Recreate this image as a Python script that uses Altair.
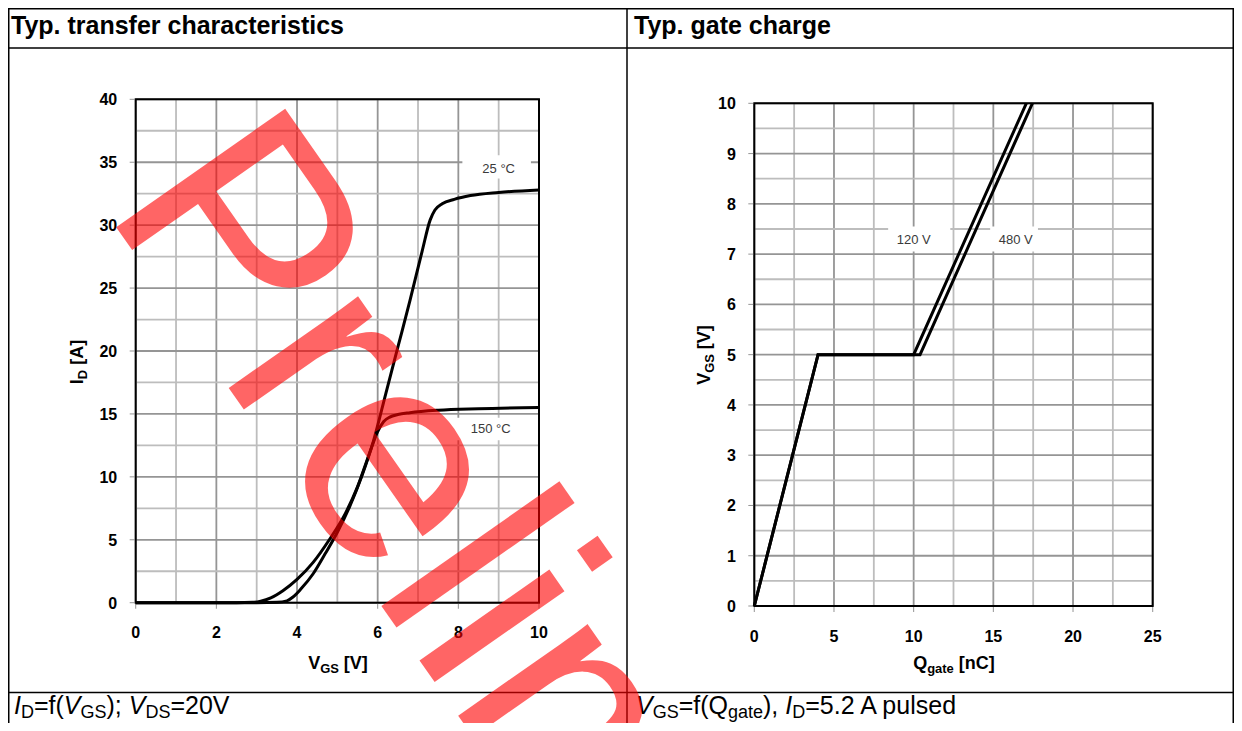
import altair as alt
import pandas as pd

FONT = "Liberation Sans"

# ---------------- data ----------------
# Typ. transfer characteristics  I_D = f(V_GS)
vgs_25 = [0, 3.0, 3.5, 3.75, 3.9, 4.1, 4.4, 4.7, 5.0, 5.3, 5.6, 5.9, 6.2, 6.5, 6.8, 7.1, 7.3, 7.42, 7.6, 7.9, 8.3, 9.0, 10.0]
id_25 = [0, 0, 0.03, 0.15, 0.45, 1.1, 2.3, 3.9, 5.6, 7.6, 10.0, 12.9, 16.6, 20.3, 24.0, 27.9, 30.4, 31.2, 31.7, 32.05, 32.35, 32.6, 32.8]
vgs_150 = [0, 2.5, 2.9, 3.1, 3.35, 3.65, 4.0, 4.4, 4.8, 5.2, 5.5, 5.8, 6.0, 6.15, 6.3, 6.5, 6.8, 7.5, 8.5, 10.0]
id_150 = [0, 0, 0.03, 0.12, 0.38, 0.95, 1.85, 3.2, 5.0, 7.1, 9.2, 11.9, 13.6, 14.4, 14.75, 14.95, 15.1, 15.3, 15.42, 15.52]

# Typ. gate charge  V_GS = f(Q_gate)
q_120 = [0, 4.0, 10.0, 17.07]
vg_120 = [0, 5, 5, 10]
q_480 = [0, 4.0, 10.4, 17.45]
vg_480 = [0, 5, 5, 10]

# axes / grids
left_x_ticks = [0, 2, 4, 6, 8, 10]
left_y_ticks = [0, 5, 10, 15, 20, 25, 30, 35, 40]
left_x_minor = [1, 3, 5, 7, 9]
left_y_minor = [2.5, 7.5, 12.5, 17.5, 22.5, 27.5, 32.5, 37.5]
right_x_ticks = [0, 5, 10, 15, 20, 25]
right_y_ticks = [0, 1, 2, 3, 4, 5, 6, 7, 8, 9, 10]
right_x_minor = [2.5, 7.5, 12.5, 17.5, 22.5]
right_y_minor = [0.5, 1.5, 2.5, 3.5, 4.5, 5.5, 6.5, 7.5, 8.5, 9.5]

# curve labels
left_labels = ["25 °C", "150 °C"]
left_label_x = [9.0, 8.8]
left_label_y = [34.5, 13.8]
left_box_x0 = [8.1, 7.95]
left_box_x1 = [9.8, 9.7]
left_box_y0 = [33.7, 12.9]
left_box_y1 = [35.55, 14.7]
right_labels = ["120 V", "480 V"]
right_label_x = [10.0, 16.4]
right_label_y = [7.28, 7.28]
right_box_x0 = [8.4, 14.8]
right_box_x1 = [12.3, 17.8]
right_box_y0 = [7.05, 7.05]
right_box_y1 = [7.55, 7.55]

# ---------------- layout ----------------
W, H = 1226, 715
PAGE = 8


def px(v):
    return v - PAGE


LX = [px(135.7), px(539.0)]
LY = [px(602.7), px(99.3)]
RX = [px(754.3), px(1152.7)]
RY = [px(606.0), px(103.3)]

one = pd.DataFrame({"k": [0]})

REG = {' ': 278, '(': 333, ')': 333, ',': 278, '.': 278, ';': 278, '=': 584, 'A': 667, 'C': 722,
       'D': 722, 'G': 778, 'I': 278, 'Q': 778, 'S': 667, 'V': 667, 'a': 556, 'd': 556, 'e': 556,
       'f': 278, 'g': 556, 'l': 222, 'n': 556, 'p': 556, 's': 500, 't': 278, 'u': 556, '[': 278, ']': 278}
BOLD = {' ': 278, '[': 333, ']': 333, 'A': 722, 'C': 722, 'D': 722, 'G': 778, 'I': 278, 'Q': 778,
        'S': 667, 'V': 667, 'a': 556, 'e': 556, 'g': 611, 'n': 611, 't': 333}


def width(s, size, bold):
    table = BOLD if bold else REG
    return sum(table.get(c, 556) for c in s) * size / 1000.0


def txt(s, x, y, size, weight="normal", style="normal", angle=0, align="left",
        baseline="alphabetic", color="black", opacity=1.0):
    return alt.Chart(one).mark_text(
        text=s, font=FONT, fontSize=size, fontWeight=weight, fontStyle=style,
        angle=angle, align=align, baseline=baseline, color=color, opacity=opacity
    ).encode(x=alt.value(x), y=alt.value(y))


def rich(parts, size, weight, ax, ay, angle=0, center=True, shift_ratio=0.22):
    sub_size = size * 0.72
    shift = size * shift_ratio
    bold = weight == "bold"
    total = sum(width(t, sub_size if sb else size, bold) for t, it, sb in parts)
    if angle == 0:
        pos = ax - total / 2 if center else ax
    else:
        pos = ay + total / 2 if center else ay
    out = []
    for t, it, sb in parts:
        fs = sub_size if sb else size
        lead = len(t) - len(t.lstrip(" "))
        core = t.lstrip(" ")
        lw = width(" " * lead, fs, bold)
        w = width(core, fs, bold)
        if angle == 0:
            pos += lw
            out.append(txt(core, pos, ay + (shift if sb else 0), fs, weight,
                           "italic" if it else "normal"))
            pos += w
        else:
            pos -= lw
            out.append(txt(core, ax + (shift if sb else 0), pos, fs, weight,
                           "italic" if it else "normal", angle=270))
            pos -= w
    return out


def panel(xs, ys, xdom, ydom, xmaj, xmin, ymaj, ymin, curves, labels,
          lx, ly, bx0, bx1, by0, by1, interp):
    layers = []
    for vals, col in ((xmin, "#bdbdbd"), (xmaj, "#959595")):
        d = pd.DataFrame({"v": vals, "lo": [ydom[0]] * len(vals), "hi": [ydom[1]] * len(vals)})
        layers.append(alt.Chart(d).mark_rule(color=col, strokeWidth=1.8).encode(
            x=alt.X("v:Q", scale=xs, axis=None), y=alt.Y("lo:Q", scale=ys, axis=None), y2="hi:Q"))
    for vals, col in ((ymin, "#bdbdbd"), (ymaj, "#959595")):
        d = pd.DataFrame({"v": vals, "lo": [xdom[0]] * len(vals), "hi": [xdom[1]] * len(vals)})
        layers.append(alt.Chart(d).mark_rule(color=col, strokeWidth=1.8).encode(
            x=alt.X("lo:Q", scale=xs, axis=None), x2="hi:Q", y=alt.Y("v:Q", scale=ys, axis=None)))
    boxes = pd.DataFrame({"x0": bx0, "x1": bx1, "y0": by0, "y1": by1})
    layers.append(alt.Chart(boxes).mark_rect(color="white").encode(
        x=alt.X("x0:Q", scale=xs, axis=None), x2="x1:Q",
        y=alt.Y("y0:Q", scale=ys, axis=None), y2="y1:Q"))
    frame = pd.DataFrame({"x0": [xdom[0]], "x1": [xdom[1]], "y0": [ydom[0]], "y1": [ydom[1]]})
    layers.append(alt.Chart(frame).mark_rect(fillOpacity=0, stroke="black", strokeWidth=2).encode(
        x=alt.X("x0:Q", scale=xs, axis=None), x2="x1:Q",
        y=alt.Y("y0:Q", scale=ys, axis=None), y2="y1:Q"))
    # tick marks
    xt = pd.DataFrame({"v": xmaj, "b": [ydom[0]] * len(xmaj), "t": [str(v) for v in xmaj]})
    yt = pd.DataFrame({"v": ymaj, "b": [xdom[0]] * len(ymaj), "t": [str(v) for v in ymaj]})
    layers.append(alt.Chart(xt).mark_tick(orient="vertical", size=5, thickness=1, color="#666", yOffset=3.5).encode(
        x=alt.X("v:Q", scale=xs, axis=None), y=alt.Y("b:Q", scale=ys, axis=None)))
    layers.append(alt.Chart(yt).mark_tick(orient="horizontal", size=5, thickness=1, color="#666", xOffset=-3.5).encode(
        x=alt.X("b:Q", scale=xs, axis=None), y=alt.Y("v:Q", scale=ys, axis=None)))
    # tick labels
    layers.append(alt.Chart(xt).mark_text(font=FONT, fontSize=16, fontWeight="bold", color="black",
                                          align="center", baseline="middle", dy=30.5).encode(
        x=alt.X("v:Q", scale=xs, axis=None), y=alt.Y("b:Q", scale=ys, axis=None), text="t:N"))
    layers.append(alt.Chart(yt).mark_text(font=FONT, fontSize=16, fontWeight="bold", color="black",
                                          align="right", baseline="middle", dx=-18.5, dy=1).encode(
        x=alt.X("b:Q", scale=xs, axis=None), y=alt.Y("v:Q", scale=ys, axis=None), text="t:N"))
    # curves
    layers.append(alt.Chart(curves).mark_line(color="black", strokeWidth=3, interpolate=interp).encode(
        x=alt.X("x:Q", scale=xs, axis=None), y=alt.Y("y:Q", scale=ys, axis=None),
        detail="s:N", order="o:Q"))
    lab = pd.DataFrame({"t": labels, "x": lx, "y": ly})
    layers.append(alt.Chart(lab).mark_text(font=FONT, fontSize=13, color="#3a3a3a",
                                           align="center", baseline="middle").encode(
        x=alt.X("x:Q", scale=xs, axis=None), y=alt.Y("y:Q", scale=ys, axis=None), text="t:N"))
    return alt.layer(*layers)


def series(name, xs, ys):
    return pd.DataFrame({"s": [name] * len(xs), "x": xs, "y": ys, "o": list(range(len(xs)))})


left_curves = pd.concat([series("25", vgs_25, id_25), series("150", vgs_150, id_150)])
right_curves = pd.concat([series("120", q_120, vg_120), series("480", q_480, vg_480)])

lxs = alt.Scale(domain=[0, 10], range=LX, nice=False, zero=False)
lys = alt.Scale(domain=[0, 40], range=LY, nice=False, zero=False)
rxs = alt.Scale(domain=[0, 25], range=RX, nice=False, zero=False)
rys = alt.Scale(domain=[0, 10], range=RY, nice=False, zero=False)

left = panel(lxs, lys, [0, 10], [0, 40], left_x_ticks, left_x_minor, left_y_ticks, left_y_minor,
             left_curves, left_labels, left_label_x, left_label_y,
             left_box_x0, left_box_x1, left_box_y0, left_box_y1, "monotone")
right = panel(rxs, rys, [0, 25], [0, 10], right_x_ticks, right_x_minor, right_y_ticks, right_y_minor,
              right_curves, right_labels, right_label_x, right_label_y,
              right_box_x0, right_box_x1, right_box_y0, right_box_y1, "linear")

# ---------------- table frame ----------------
LW = 1.5
table = [
    alt.Chart(one).mark_rule(color="black", strokeWidth=LW).encode(x=alt.value(0), x2=alt.value(W), y=alt.value(0.75)),
    alt.Chart(one).mark_rule(color="black", strokeWidth=LW).encode(x=alt.value(0), x2=alt.value(W), y=alt.value(px(48))),
    alt.Chart(one).mark_rule(color="black", strokeWidth=LW).encode(x=alt.value(0), x2=alt.value(W), y=alt.value(px(692.5))),
    alt.Chart(one).mark_rule(color="black", strokeWidth=LW).encode(x=alt.value(0.75), y=alt.value(0), y2=alt.value(H)),
    alt.Chart(one).mark_rule(color="black", strokeWidth=LW).encode(x=alt.value(px(627)), y=alt.value(0), y2=alt.value(H)),
    alt.Chart(one).mark_rule(color="black", strokeWidth=LW).encode(x=alt.value(W - 0.75), y=alt.value(0), y2=alt.value(H)),
]

texts = [
    txt("Typ. transfer characteristics", px(11), px(34), 25, "bold"),
    txt("Typ. gate charge", px(634), px(34), 25, "bold"),
]
F, T = False, True
texts += rich([("I", T, F), ("D", F, T), ("=f(", F, F), ("V", T, F), ("GS", F, T), ("); ", F, F),
               ("V", T, F), ("DS", F, T), ("=20V", F, F)], 25, "normal", px(14), px(714),
              center=False, shift_ratio=0.17)
texts += rich([("V", T, F), ("GS", F, T), ("=f(Q", F, F), ("gate", F, T), ("), ", F, F),
               ("I", T, F), ("D", F, T), ("=5.2 A pulsed", F, F)], 25, "normal", px(636), px(714),
              center=False, shift_ratio=0.17)
texts += rich([("V", F, F), ("GS", F, T), (" [V]", F, F)], 18, "bold", px(338), px(669))
texts += rich([("Q", F, F), ("gate", F, T), (" [nC]", F, F)], 18, "bold", px(954), px(669))
texts += rich([("I", F, F), ("D", F, T), (" [A]", F, F)], 18, "bold", px(83), px(362), angle=270)
texts += rich([("V", F, F), ("GS", F, T), (" [V]", F, F)], 18, "bold", px(710), px(355), angle=270)

watermark = txt("Preliminary", px(102), px(207), 300, angle=55, color="#ff0000", opacity=0.6)

chart = alt.layer(*table, left, right, *texts, watermark).resolve_scale(
    x="independent", y="independent"
).properties(
    width=W, height=H, padding=0, autosize=alt.AutoSizeParams(type="none")
).configure_view(stroke=None)

chart.save("out.html", embed_options={"renderer": "svg", "actions": False})
